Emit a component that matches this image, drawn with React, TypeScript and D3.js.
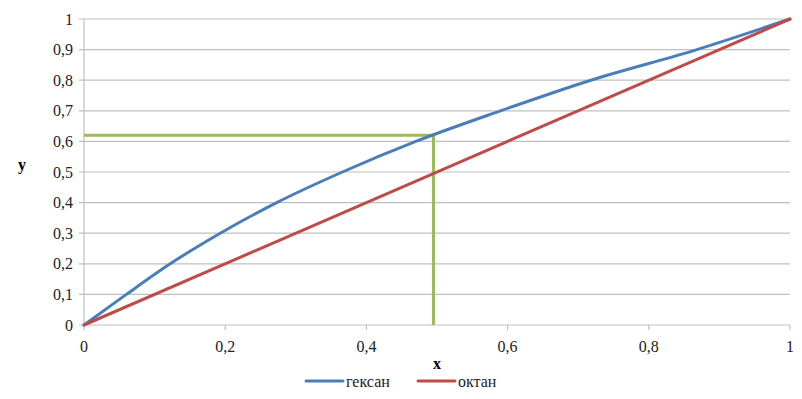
import React, { useRef, useEffect } from 'react';
import * as d3 from 'd3';

// hexane curve (smoothed in the original)
const hexaneX = [0, 0.06, 0.122, 0.193, 0.273, 0.366, 0.47, 0.59, 0.718, 0.868, 1];
const hexaneY = [0, 0.1, 0.2, 0.3, 0.4, 0.5, 0.6, 0.7, 0.8, 0.9, 1];
const octaneX = [0, 1];
const octaneY = [0, 1];
// green guide
const guideX = 0.495;
const guideY = 0.62;

const xTicks = [0, 0.2, 0.4, 0.6, 0.8, 1];
const yTicks = [0, 0.1, 0.2, 0.3, 0.4, 0.5, 0.6, 0.7, 0.8, 0.9, 1];
const seriesNames = ['гексан', 'октан'];
const colors = ['#4a7ebb', '#be4b48'];

const fmt = (v: number) => String(v).replace('.', ',');

const App: React.FC = () => {
  const svgRef = useRef<SVGSVGElement | null>(null);

  useEffect(() => {
    document.body.style.margin = '0';
    const width = 802;
    const height = 399;
    const margin = { top: 19, right: 12, bottom: 74, left: 84 };
    const innerWidth = width - margin.left - margin.right;
    const innerHeight = height - margin.top - margin.bottom;

    d3.select(svgRef.current).selectAll('*').remove();
    const svg = d3.select(svgRef.current).attr('width', width).attr('height', height);

    const xScale = d3.scaleLinear().domain([0, 1]).range([0, innerWidth]);
    const yScale = d3.scaleLinear().domain([0, 1]).range([innerHeight, 0]);

    const g = svg.append('g').attr('transform', `translate(${margin.left},${margin.top})`);
    const font = "'Liberation Serif', 'DejaVu Serif', 'Times New Roman', serif";

    // horizontal grid
    g.selectAll('.grid')
      .data(yTicks)
      .enter()
      .append('line')
      .attr('x1', -5)
      .attr('x2', innerWidth)
      .attr('y1', d => yScale(d))
      .attr('y2', d => yScale(d))
      .attr('stroke', '#bfbfbf')
      .attr('stroke-width', 1.2);

    // y axis line
    g.append('line')
      .attr('x1', 0).attr('x2', 0)
      .attr('y1', 0).attr('y2', innerHeight)
      .attr('stroke', '#bfbfbf')
      .attr('stroke-width', 1.2);

    // x axis ticks
    g.selectAll('.xtick')
      .data(xTicks)
      .enter()
      .append('line')
      .attr('x1', d => xScale(d))
      .attr('x2', d => xScale(d))
      .attr('y1', innerHeight)
      .attr('y2', innerHeight + 5)
      .attr('stroke', '#bfbfbf')
      .attr('stroke-width', 1.2);

    g.selectAll('.ylabel')
      .data(yTicks)
      .enter()
      .append('text')
      .attr('x', -11)
      .attr('y', d => yScale(d))
      .attr('dy', '0.35em')
      .attr('text-anchor', 'end')
      .style('font-family', font)
      .style('font-size', '16px')
      .attr('fill', '#222')
      .text(d => fmt(d));

    g.selectAll('.xlabel')
      .data(xTicks)
      .enter()
      .append('text')
      .attr('x', d => xScale(d))
      .attr('y', innerHeight + 27)
      .attr('text-anchor', 'middle')
      .style('font-family', font)
      .style('font-size', '16px')
      .attr('fill', '#222')
      .text(d => fmt(d));

    // axis titles
    g.append('text')
      .attr('x', xScale(0.5))
      .attr('y', innerHeight + 44)
      .attr('text-anchor', 'middle')
      .style('font-family', font)
      .style('font-size', '16px')
      .style('font-weight', 'bold')
      .text('x');
    svg.append('text')
      .attr('x', 22)
      .attr('y', margin.top + yScale(0.5) - 2)
      .attr('text-anchor', 'middle')
      .style('font-family', font)
      .style('font-size', '16px')
      .style('font-weight', 'bold')
      .text('y');

    // green guide
    g.append('path')
      .attr('d', `M${xScale(0)},${yScale(guideY)}H${xScale(guideX)}V${yScale(0)}`)
      .attr('fill', 'none')
      .attr('stroke', '#9bbb59')
      .attr('stroke-width', 3);

    const line = d3.line<[number, number]>()
      .x(d => xScale(d[0]))
      .y(d => yScale(d[1]))
      .curve(d3.curveMonotoneX);

    const series: [number, number][][] = [
      hexaneX.map((x, i) => [x, hexaneY[i]]),
      octaneX.map((x, i) => [x, octaneY[i]]),
    ];
    series.forEach((pts, i) => {
      g.append('path')
        .datum(pts)
        .attr('d', line)
        .attr('fill', 'none')
        .attr('stroke', colors[i])
        .attr('stroke-width', 3)
        .attr('stroke-linecap', 'round');
    });

    // legend
    const legendY = 381;
    const legendX = [306, 418];
    seriesNames.forEach((name, i) => {
      svg.append('line')
        .attr('x1', legendX[i]).attr('x2', legendX[i] + 37)
        .attr('y1', legendY).attr('y2', legendY)
        .attr('stroke', colors[i])
        .attr('stroke-width', 3)
        .attr('stroke-linecap', 'round');
      svg.append('text')
        .attr('x', legendX[i] + 40)
        .attr('y', legendY)
        .attr('dy', '0.35em')
        .style('font-family', font)
        .style('font-size', '16px')
        .attr('fill', '#222')
        .text(name);
    });
  }, []);

  return <svg ref={svgRef} style={{ display: 'block' }}></svg>;
};

export default App;
